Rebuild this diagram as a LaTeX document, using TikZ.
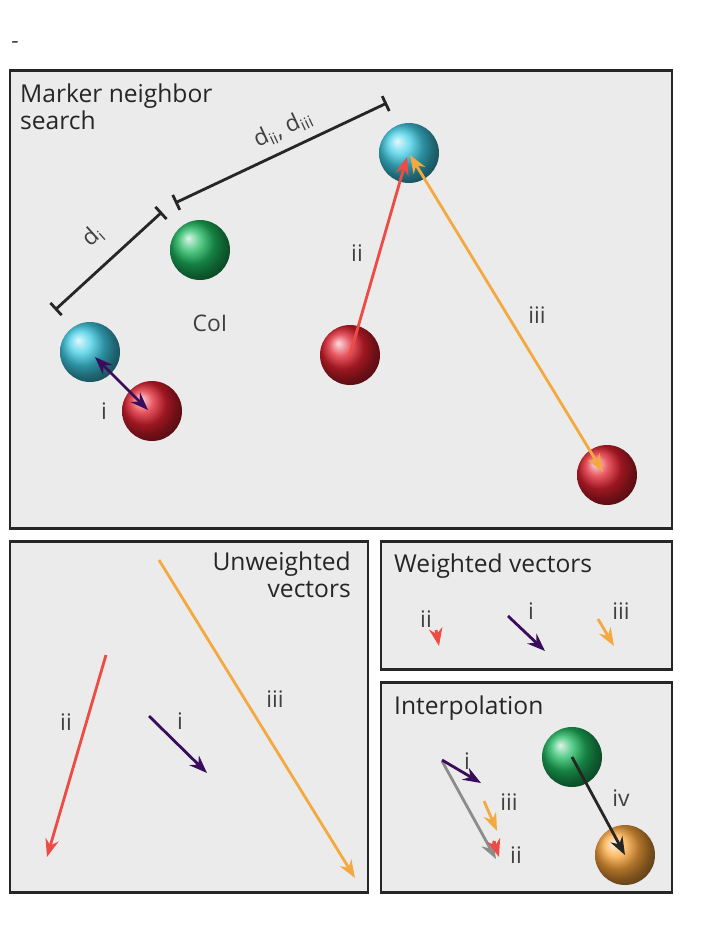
\documentclass[tikz,border=0pt]{standalone}
\usepackage{fontspec}
\setmainfont{Open Sans}
\usetikzlibrary{arrows.meta}
\definecolor{panelgray}{HTML}{EBEBEC}
\definecolor{cyanball}{HTML}{3FCDE6}
\definecolor{greenball}{HTML}{1DB85E}
\definecolor{redball}{HTML}{E0202E}
\definecolor{orangeball}{HTML}{FAA53A}
\definecolor{vecred}{HTML}{EE4B45}
\definecolor{vecorange}{HTML}{F4A940}
\definecolor{vecpurple}{HTML}{3A0D5A}
\begin{document}
\begin{tikzpicture}[x=0.02cm,y=-0.02cm,>=Stealth,
  panel/.style={draw=black!85,line width=1.7pt,fill=panelgray},
  ball/.style={circle,minimum size=1.2cm,inner sep=0pt,ball color=#1},
  vec/.style={->,line width=1.6pt,draw=#1},
  dvec/.style={<->,line width=1.6pt,draw=#1},
  lbl/.style={font=\fontsize{13}{15}\selectfont,text=black!75},
  title/.style={font=\fontsize{14}{17}\selectfont,text=black!85,align=left,anchor=north west},
  bar/.style={line width=1.6pt,draw=black!85}]
\useasboundingbox (0,0) rectangle (715,948);
\node[lbl] (dash) at (15,45) {-};
% Panels
\draw[panel] (10,70) rectangle (672,528);
\draw[panel] (10,541) rectangle (368,892);
\draw[panel] (381,541) rectangle (672,669);
\draw[panel] (381,682) rectangle (672,892);
% Marker neighbor search
\node[title] (t1) at (14,78) {Marker neighbor\\[-2pt]search};
\node[ball=cyanball] (cyA) at (409,153) {};
\node[ball=greenball] (coi) at (200,250) {};
\node[ball=cyanball] (cyB) at (90,352) {};
\node[ball=redball] (rdA) at (152,411) {};
\node[ball=redball] (rdB) at (350,355) {};
\node[ball=redball] (rdC) at (607,475) {};
\node[lbl] (coilbl) at (210,323) {CoI};
\coordinate (iA) at (95,357);
\coordinate (iB) at (148,410);
\coordinate (iiA) at (350,355);
\coordinate (iiB) at (407,157);
\coordinate (iiiA) at (410,155);
\coordinate (iiiB) at (603,472);
\draw[dvec=vecpurple] (iA) -- (iB);
\draw[vec=vecred] (iiA) -- (iiB);
\draw[dvec=vecorange] (iiiA) -- (iiiB);
\node[lbl] (li) at (104,411) {i};
\node[lbl] (lii) at (357,253) {ii};
\node[lbl] (liii) at (537,315) {iii};
% Distance bars
\coordinate (bA) at (55,310);
\coordinate (bB) at (162,212);
\coordinate (bC) at (175,203);
\coordinate (bD) at (387,103);
\draw[bar,|-|] (bA) -- (bB);
\draw[bar,|-|] (bC) -- (bD);
\node[lbl,rotate=42,inner sep=0pt] (ldi) at (93,236) {d\textsubscript{i}};
\node[lbl,rotate=25,inner sep=0pt] (ldii) at (283,129) {d\textsubscript{ii}, d\textsubscript{iii}};
% Unweighted vectors
\node[title,anchor=north east,align=right] (t2) at (357,546) {Unweighted\\[-2pt]vectors};
\coordinate (uiiA) at (106,655);
\coordinate (uiiB) at (47,857);
\coordinate (uiA) at (149,716);
\coordinate (uiB) at (207,773);
\coordinate (uiiiA) at (159,560);
\coordinate (uiiiB) at (355,878);
\draw[vec=vecred] (uiiA) -- (uiiB);
\draw[vec=vecpurple] (uiA) -- (uiB);
\draw[vec=vecorange] (uiiiA) -- (uiiiB);
\node[lbl] (uli) at (180,721) {i};
\node[lbl] (ulii) at (66,722) {ii};
\node[lbl] (uliii) at (275,699) {iii};
% Weighted vectors
\node[title] (t3) at (388,548) {Weighted vectors};
\coordinate (wiiA) at (436,630);
\coordinate (wiiB) at (439,646);
\coordinate (wiA) at (508,616);
\coordinate (wiB) at (545,651);
\coordinate (wiiiA) at (598,619);
\coordinate (wiiiB) at (614,646);
\draw[vec=vecred] (wiiA) -- (wiiB);
\draw[vec=vecpurple] (wiA) -- (wiB);
\draw[vec=vecorange] (wiiiA) -- (wiiiB);
\node[lbl] (wlii) at (426,619) {ii};
\node[lbl] (wli) at (531,611) {i};
\node[lbl] (wliii) at (621,611) {iii};
% Interpolation
\node[title] (t4) at (388,690) {Interpolation};
\node[ball=greenball] (ngb) at (572,757) {};
\node[ball=orangeball] (itp) at (625,855) {};
\coordinate (gA) at (442,761);
\coordinate (gB) at (496,859);
\coordinate (piA) at (442,760);
\coordinate (piB) at (481,783);
\coordinate (piiiA) at (484,801);
\coordinate (piiiB) at (497,831);
\coordinate (piiA) at (494,841);
\coordinate (piiB) at (499,857);
\draw[vec=black!45] (gA) -- (gB);
\draw[vec=vecpurple] (piA) -- (piB);
\draw[vec=vecorange] (piiiA) -- (piiiB);
\draw[vec=vecred] (piiA) -- (piiB);
\draw[vec=black!85] (ngb.center) -- (itp.center);
\node[lbl] (pli) at (467,761) {i};
\node[lbl] (pliii) at (509,802) {iii};
\node[lbl] (plii) at (516,855) {ii};
\node[lbl] (pliv) at (621,798) {iv};
\end{tikzpicture}
\end{document}
